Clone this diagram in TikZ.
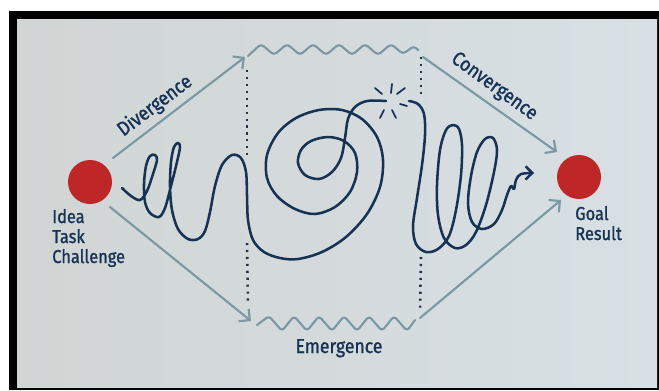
\documentclass[tikz,border=0pt]{standalone}
\usepackage{fontspec}
\newfontfamily\hand{Fira Sans}[FakeStretch=0.88,FakeBold=1.2]
\usetikzlibrary{arrows.meta}
\definecolor{paperL}{RGB}{209,213,212}
\definecolor{paperR}{RGB}{216,224,229}
\definecolor{dotred}{RGB}{190,38,40}
\definecolor{ink}{RGB}{22,50,84}
\definecolor{guide}{RGB}{122,153,163}
\definecolor{dotgrey}{RGB}{34,50,72}
\begin{document}
\begin{tikzpicture}[x=0.75pt,y=-0.75pt,
  goal/.style={circle,fill=dotred,minimum size=33pt,inner sep=0pt},
  lbl/.style={font=\hand\fontsize{14}{17}\selectfont,text=ink,inner sep=0pt},
  alb/.style={font=\hand\fontsize{15}{18}\selectfont,text=ink,inner sep=0pt},
  guideline/.style={draw=guide,line width=1.6pt,line cap=round,-{Straight Barb[length=6pt,width=12pt]}},
  wave/.style={draw=guide,line width=1.6pt,rounded corners=2.5pt,line cap=round,line join=round},
  dotline/.style={draw=dotgrey,line width=1.9pt,dash pattern=on 1.6pt off 3.6pt},
  squig/.style={draw=ink,line width=1.9pt,line cap=round,line join=round},
  ray/.style={draw=ink,line width=1.3pt,line cap=round}]
\useasboundingbox (0,0) rectangle (659,390);
\fill[white] (0,0) rectangle (659,390);
\fill[black] (9,11) rectangle (659,390);
\shade[left color=paperL,right color=paperR] (17,19) rectangle (657,387);

% goal dots
\node[goal] (L) at (90,182) {};
\node[goal] (R) at (579,177) {};

% labels
\node[lbl,anchor=base west] (idea) at (52,223) {Idea};
\node[lbl,anchor=base west] (task) at (52,243) {Task};
\node[lbl,anchor=base west] (chal) at (52,263) {Challenge};
\node[lbl,anchor=base west] (goaltx) at (575,220) {Goal};
\node[lbl,anchor=base west] (restx) at (575,240) {Result};

% guide arrows
\coordinate (dvs) at (113,158); \coordinate (dve) at (245,57);
\coordinate (ems) at (110,207); \coordinate (eme) at (251,321);
\coordinate (cvs) at (423,57);  \coordinate (cve) at (557,152);
\coordinate (gls) at (420,318); \coordinate (gle) at (561,200);
\draw[guideline] (dvs) -- (dve);
\draw[guideline] (ems) -- (eme);
\draw[guideline] (cvs) -- (cve);
\draw[guideline] (gls) -- (gle);

\node[alb,rotate=37] (div) at (155,106) {Divergence};
\node[alb,rotate=-36] (conv) at (494,87) {Convergence};
\node[alb,anchor=base] (emer) at (339,353) {Emergence};

% zigzags
\draw[wave] (248,56) -- (261,44) -- (274,55) -- (287,44) -- (300,55) -- (313,44) -- (326,55)
  -- (339,44) -- (352,55) -- (365,44) -- (378,55) -- (391,44) -- (403,54) -- (414,46) -- (418,50);
\draw[wave] (257,325) -- (269,316) -- (282,331) -- (294,316) -- (307,331) -- (319,316) -- (332,331)
  -- (344,316) -- (357,331) -- (369,316) -- (382,331) -- (394,316) -- (407,331) -- (415,320);

% dotted dividers
\draw[dotline] (247,70) -- (247,157);
\draw[dotline] (247,243) -- (248,305);
\draw[dotline] (421,57) -- (421,98);
\draw[dotline] (421,257) -- (420,312);

% squiggle
\draw[squig] plot[smooth,tension=0.55] coordinates {
 (122,188) (131,196) (140,200) (147,191) (153,174) (157,160) (155,155) (150,156)
 (146,166) (144,184) (145,202) (150,213) (159,217) (165,208) (171,186) (177,162)
 (180,147) (178,143) (174,147) (171,162) (170,186) (172,210) (178,229) (188,239)
 (198,239) (205,231) (210,212) (215,186) (222,165) (232,155) (241,158) (246,172)
 (247,195) (248,220) (253,240) (264,252) (280,258) (298,259) (322,252) (346,237)
 (367,214) (380,187) (383,160) (377,137) (362,119) (342,110) (319,110) (296,118)
 (278,133) (267,155) (267,178) (277,196) (295,209) (315,214) (335,207) (350,192)
 (357,172) (355,153) (344,141) (328,137) (311,141) (301,150) (298,163) (305,175)
 (319,179) (332,172) (341,158) (345,138) (348,119) (355,107) (367,101) (386,101)};
\draw[squig,-{Straight Barb[length=5pt,width=10pt]}] plot[smooth,tension=0.55] coordinates {
 (409,101) (418,104) (424,114) (425,135) (422,165) (417,198) (413,226) (416,244)
 (426,252) (438,249) (449,236) (456,210) (461,175) (462,145) (459,129) (453,125)
 (446,130) (440,150) (437,185) (438,215) (444,238) (455,248) (466,245) (476,232)
 (486,205) (494,172) (497,150) (493,138) (485,139) (477,152) (471,176) (468,203)
 (472,222) (482,229) (494,224) (502,210) (507,195) (511,186) (514,189) (516,180)
 (521,174) (534,173)};

% spark
\draw[ray] (375,88) -- (382,94);
\draw[ray] (392,84) -- (391,93);
\draw[ray] (397,94) -- (405,88);
\draw[ray] (400,104) -- (407,106);
\draw[ray] (384,110) -- (380,118);
\draw[ray] (392,110) -- (396,118);
\end{tikzpicture}
\end{document}
